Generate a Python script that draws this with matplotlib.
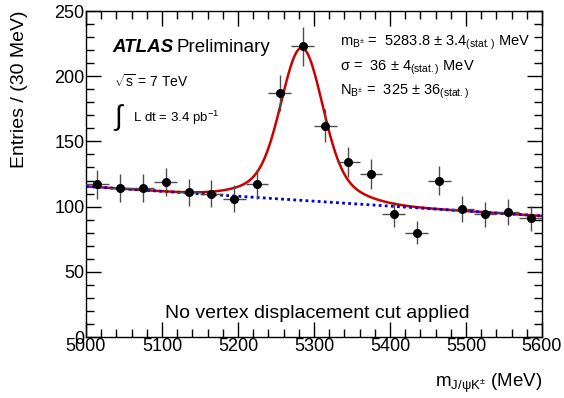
import numpy as np
import matplotlib
matplotlib.use("Agg")
import matplotlib.pyplot as plt
from matplotlib.ticker import MultipleLocator

plt.rcParams['font.family'] = ['Liberation Sans', 'DejaVu Sans']
plt.rcParams['mathtext.fontset'] = 'custom'
plt.rcParams['mathtext.rm'] = 'Liberation Sans'
plt.rcParams['mathtext.it'] = 'Liberation Sans:italic'

# bin centres (30 MeV bins) and entries
bin_centers = [5015, 5045, 5075, 5105, 5135, 5165, 5195, 5225, 5255, 5285,
               5315, 5345, 5375, 5405, 5435, 5465, 5495, 5525, 5555, 5585]
entries = [117, 114, 114, 119, 111, 110, 106, 117, 187, 223,
           162, 134, 125, 94, 80, 120, 98, 94, 96, 91]

# fitted curves as seen in the plot
bkg_at_5000 = 115.5
bkg_slope = -0.0378
peak_mean = 5284.0
core_amp, core_sigma = 96.0, 26.0
tail_amp, tail_sigma = 21.0, 56.0


def background(m):
    return bkg_at_5000 + bkg_slope * (m - 5000)


def signal(m):
    return (core_amp * np.exp(-0.5 * ((m - peak_mean) / core_sigma) ** 2)
            + tail_amp * np.exp(-0.5 * ((m - peak_mean) / tail_sigma) ** 2))


fig = plt.figure(figsize=(5.64, 3.98), dpi=100)
ax = fig.add_axes([86 / 564, 61 / 398, 456 / 564, 326 / 398])

m = np.linspace(5000, 5600, 600)
ax.plot(m, background(m) + signal(m), color='#cc0000', lw=1.8, zorder=2)
ax.plot(m, background(m), color='#0000dd', lw=2.0, ls=(0, (1, 1.2)), zorder=3)

x = np.array(bin_centers)
y = np.array(entries)
ax.errorbar(x, y, yerr=np.sqrt(y), xerr=15, fmt='o', color='black',
            ms=5.5, ecolor='0.3', elinewidth=1, capsize=0, zorder=4)

ax.set_xlim(5000, 5600)
ax.set_ylim(0, 250)
ax.xaxis.set_major_locator(MultipleLocator(100))
ax.xaxis.set_minor_locator(MultipleLocator(20))
ax.yaxis.set_major_locator(MultipleLocator(50))
ax.yaxis.set_minor_locator(MultipleLocator(10))
ax.tick_params(which='both', direction='in', top=True, right=True,
               labelsize=13, width=1, pad=1)
ax.tick_params(which='major', length=11)
ax.tick_params(which='minor', length=5.5)
for s in ax.spines.values():
    s.set_linewidth(1)

ax.set_xlabel(r'm$_{\mathregular{J/\psi K^{\pm}}}$ (MeV)', fontsize=13.5,
              loc='right', labelpad=12)
ax.set_ylabel('Entries / (30 MeV)', fontsize=14, loc='top')
ax.yaxis.set_label_coords(-0.127, 1.0)

fig.text(112 / 564, 1 - 47 / 398, 'ATLAS', fontsize=13.5, fontweight='bold',
         style='italic', va='center')
fig.text(177 / 564, 1 - 47 / 398, 'Preliminary', fontsize=13.5, va='center')
fig.text(114 / 564, 1 - 82 / 398, r'$\sqrt{\mathregular{s}}$ = 7 TeV',
         fontsize=10, va='center')
fig.text(113 / 564, 1 - 118 / 398, r'$\int$', fontsize=20, va='center')
fig.text(133 / 564, 1 - 118 / 398, r'L dt = 3.4 pb$^{\mathregular{-1}}$',
         fontsize=9.5, va='center')

fig.text(340 / 564, 1 - 43 / 398,
         r'm$_{\mathregular{B^{\pm}}}$ =  5283.8 $\pm$ 3.4$_{\mathregular{(stat.)}}$ MeV',
         fontsize=10.5, va='center')
fig.text(340 / 564, 1 - 68 / 398,
         r'$\mathregular{\sigma}$ =  36 $\pm$ 4$_{\mathregular{(stat.)}}$ MeV',
         fontsize=10.5, va='center')
fig.text(340 / 564, 1 - 92 / 398,
         r'N$_{\mathregular{B^{\pm}}}$ =  325 $\pm$ 36$_{\mathregular{(stat.)}}$',
         fontsize=10.5, va='center')

fig.text(317 / 564, 1 - 313 / 398, 'No vertex displacement cut applied',
         fontsize=14, ha='center', va='center')

fig.savefig('out.png', dpi=100)
